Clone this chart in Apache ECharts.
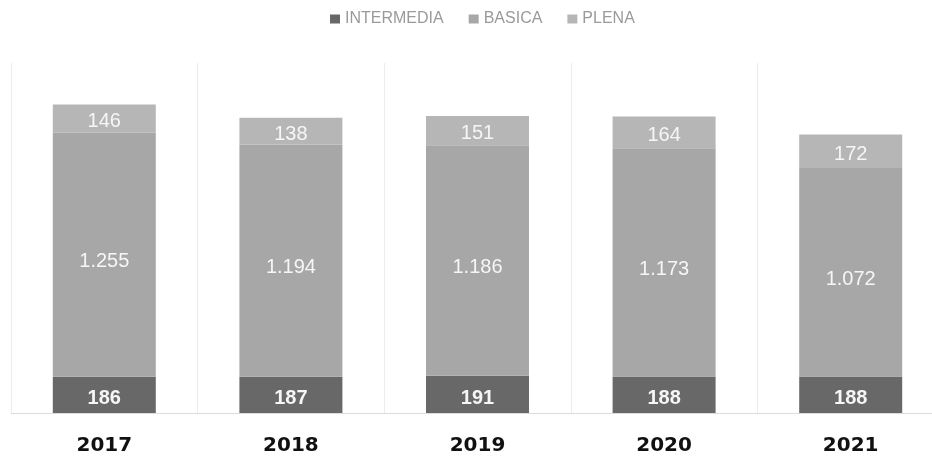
<!DOCTYPE html>
<html>
<head>
<meta charset="utf-8">
<script src="https://cdn.jsdelivr.net/npm/echarts@6/dist/echarts.min.js"></script>
<style>html,body{margin:0;padding:0;background:#fff;overflow:hidden}#c{width:944px;height:456px}</style>
</head>
<body>
<div id="c"></div>
<script>
const years = ['2017', '2018', '2019', '2020', '2021'];
const intermedia = [186, 187, 191, 188, 188];
const basica = [1255, 1194, 1186, 1173, 1072];
const plena = [146, 138, 151, 164, 172];
const seriesNames = ['INTERMEDIA', 'BASICA', 'PLENA'];

const fmt = v => String(v).replace(/\B(?=(\d{3})+(?!\d))/g, '.');
const chart = echarts.init(document.getElementById('c'), null, {renderer: 'canvas'});

function mkSeries(name, data, color, weight, dy) {
  return {
    name: name, type: 'bar', stack: 'total', data: data, barWidth: 103,
    itemStyle: {color: color},
    label: {
      show: true, position: 'inside', color: '#f6f6f6', offset: [0, dy],
      fontFamily: 'Liberation Sans', fontSize: 20, fontWeight: weight,
      formatter: p => fmt(p.value)
    }
  };
}

chart.setOption({
  animation: false,
  legend: {
    top: 6, left: 325, itemWidth: 10, itemHeight: 9, itemGap: 25,
    icon: 'rect',
    textStyle: {color: '#9a9a9a', fontFamily: 'Liberation Sans', fontSize: 16},
    data: seriesNames
  },
  grid: {left: 11, top: 63, right: 0, height: 350, containLabel: false},
  xAxis: {
    type: 'category', data: years, boundaryGap: true,
    axisLine: {show: true, lineStyle: {color: '#dcdcdc', width: 1}},
    axisTick: {show: false},
    splitLine: {show: true, lineStyle: {color: '#ececec', width: 1}},
    axisLabel: {color: '#111', fontFamily: 'DejaVu Sans', fontWeight: 'bold', fontSize: 20, margin: 23}
  },
  yAxis: {
    type: 'value', min: 0, max: 1800, show: false,
    splitLine: {show: false}
  },
  series: [
    mkSeries(seriesNames[0], intermedia, '#686868', 'bold', 4),
    mkSeries(seriesNames[1], basica, '#a7a7a7', 'normal', 7),
    mkSeries(seriesNames[2], plena, '#b6b6b6', 'normal', 3)
  ]
});
</script>
</body>
</html>
